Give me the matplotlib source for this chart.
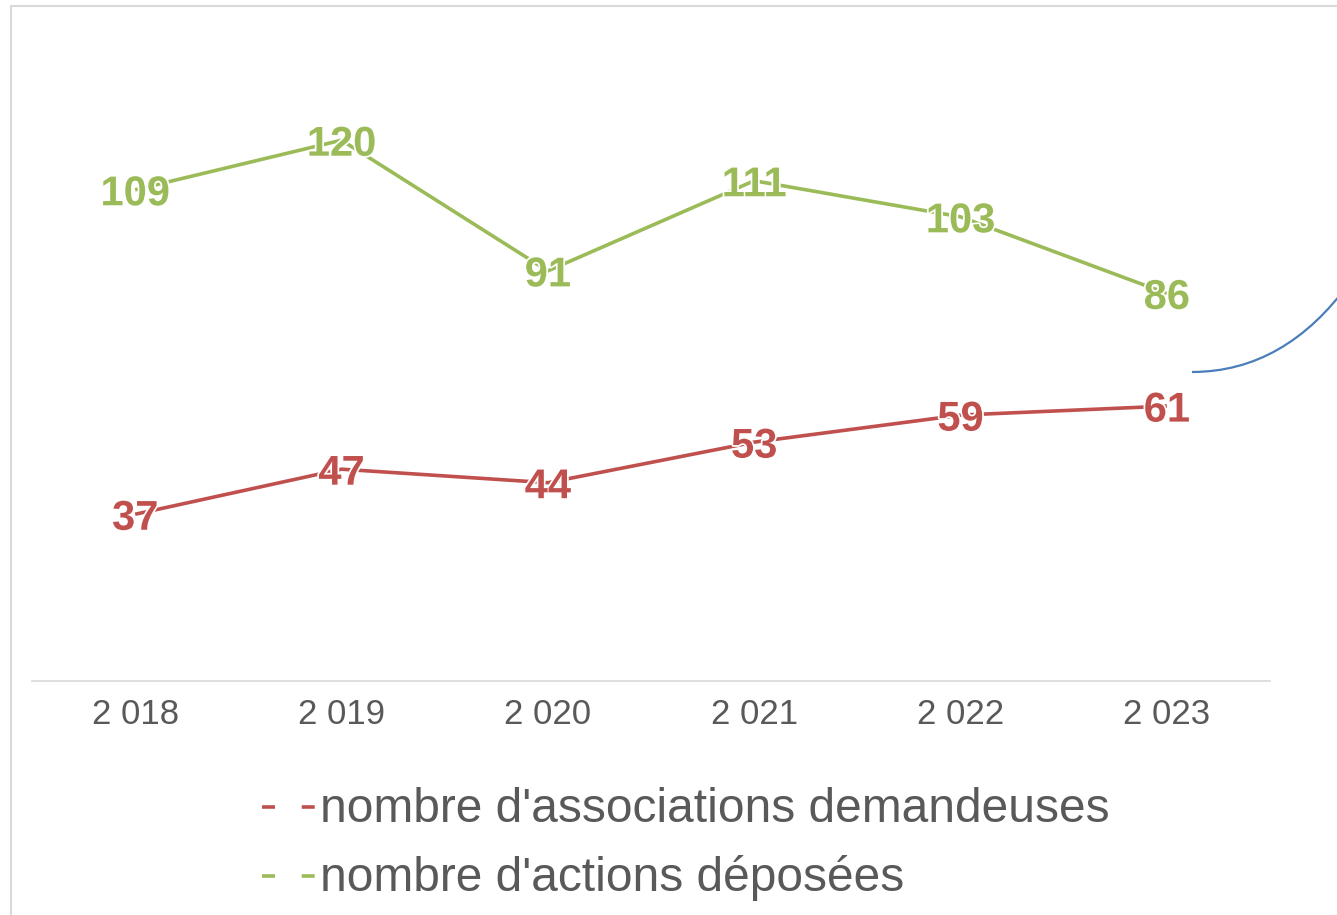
import matplotlib
matplotlib.use("Agg")
import matplotlib.pyplot as plt
import matplotlib.patheffects as pe
from matplotlib.lines import Line2D
from matplotlib.patches import Rectangle, PathPatch
from matplotlib.path import Path

# data
years = ["2 018", "2 019", "2 020", "2 021", "2 022", "2 023"]
associations = [37, 47, 44, 53, 59, 61]
actions = [109, 120, 91, 111, 103, 86]
series_names = ["nombre d'associations demandeuses", "nombre d'actions déposées"]

RED = "#C0504D"
GREEN = "#9BBB59"
GREY_TXT = "#595959"
GREY_LINE = "#D9D9D9"
BLUE = "#4A7EBB"

W, H = 1337, 915
plt.rcParams["font.family"] = ["Liberation Sans", "DejaVu Sans"]

fig = plt.figure(figsize=(W / 100, H / 100), dpi=100, facecolor="white")

def fx(px):
    return px / W

def fy(py):
    return 1 - py / H

# plot area: x from 32 to 1270, y=0 at 681, 150 at ~5
ax = fig.add_axes([fx(32), fy(681), fx(1270 - 32), (681 - 5) / H])
ax.set_xlim(-0.5, len(years) - 0.5)
ax.set_ylim(0, 150)
for s in ["top", "right", "left"]:
    ax.spines[s].set_visible(False)
ax.spines["bottom"].set_color(GREY_LINE)
ax.spines["bottom"].set_linewidth(1.2)
ax.set_yticks([])
ax.set_xticks(range(len(years)))
ax.set_xticklabels(years, fontsize=25, color=GREY_TXT)
ax.tick_params(axis="x", length=0, pad=12.5)
ax.patch.set_alpha(0)

x = list(range(len(years)))
halo = [pe.withStroke(linewidth=2.5, foreground="white")]
for vals, col in [(associations, RED), (actions, GREEN)]:
    ax.plot(x, vals, color=col, lw=2.6, solid_capstyle="butt", zorder=2)
    for xi, v in zip(x, vals):
        ax.text(xi, v, str(v), ha="center", va="center_baseline", fontsize=30,
                fontweight="bold", color=col, path_effects=halo, zorder=3)

# legend drawn by hand below the axis
for row, (name, col) in enumerate(zip(series_names, [RED, GREEN])):
    yy = 807 + row * 69
    fig.add_artist(Line2D([fx(262), fx(318)], [fy(yy), fy(yy)], color=col,
                          lw=2.6, dashes=(3.6, 7.4), transform=fig.transFigure))
    fig.text(fx(320), fy(yy + 15), name, fontsize=34.5, color=GREY_TXT,
             ha="left", va="baseline")

# chart border (only top and left visible)
fig.add_artist(Rectangle((fx(11), -0.2), 1.2, fy(6) + 0.2, fill=False,
                         edgecolor=GREY_LINE, lw=1.5, transform=fig.transFigure))

# part of a blue connector curve at the right edge
verts = [(fx(1192), fy(372)), (fx(1285), fy(372)), (fx(1350), fy(282))]
curve = Path(verts, [Path.MOVETO, Path.CURVE3, Path.CURVE3])
fig.add_artist(PathPatch(curve, fill=False, edgecolor=BLUE, lw=1.6,
                         transform=fig.transFigure))

fig.savefig("out.png", dpi=100, facecolor="white")
